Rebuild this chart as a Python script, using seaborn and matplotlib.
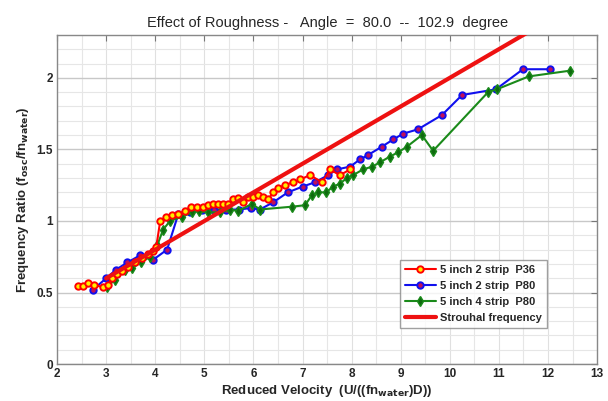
import matplotlib
matplotlib.use("Agg")
import matplotlib.pyplot as plt
import seaborn as sns
import numpy as np
import pandas as pd

# Data
p36_x = [2.43, 2.53, 2.63, 2.75, 2.93, 3.03, 3.12, 3.22, 3.32, 3.45, 3.58, 3.72, 3.85, 3.95, 4.02,
         4.10, 4.22, 4.34, 4.47, 4.60, 4.72, 4.85, 4.98, 5.08, 5.18, 5.28, 5.38, 5.48, 5.58, 5.69,
         5.79, 5.89, 5.99, 6.09, 6.20, 6.30, 6.40, 6.50, 6.64, 6.80, 6.95, 7.15, 7.40, 7.56, 7.76, 7.97]
p36_y = [0.545, 0.545, 0.57, 0.55, 0.54, 0.55, 0.60, 0.63, 0.65, 0.68, 0.71, 0.74, 0.77, 0.79, 0.82,
         1.00, 1.03, 1.04, 1.05, 1.07, 1.10, 1.10, 1.10, 1.11, 1.12, 1.12, 1.12, 1.12, 1.15, 1.16,
         1.13, 1.17, 1.17, 1.18, 1.17, 1.15, 1.20, 1.23, 1.25, 1.27, 1.29, 1.32, 1.27, 1.36, 1.32, 1.36]

p80_x = [2.73, 3.00, 3.20, 3.43, 3.69, 3.96, 4.24, 4.47, 4.71, 4.95, 5.20, 5.45, 5.70, 5.95, 6.13,
         6.40, 6.70, 7.00, 7.25, 7.52, 7.70, 7.97, 8.17, 8.33, 8.62, 8.85, 9.05, 9.35, 9.84, 10.25,
         10.94, 11.49, 12.04]
p80_y = [0.52, 0.60, 0.66, 0.71, 0.76, 0.73, 0.80, 1.05, 1.06, 1.08, 1.08, 1.08, 1.08, 1.09, 1.08,
         1.13, 1.20, 1.24, 1.27, 1.32, 1.36, 1.38, 1.43, 1.46, 1.52, 1.57, 1.61, 1.64, 1.74, 1.88,
         1.92, 2.06, 2.06]

s4_x = [3.02, 3.18, 3.39, 3.53, 3.70, 3.90, 4.04, 4.16, 4.30, 4.55, 4.75, 4.90, 5.08, 5.32, 5.52,
        5.69, 5.97, 6.13, 6.79, 7.05, 7.19, 7.32, 7.48, 7.62, 7.76, 7.90, 8.03, 8.23, 8.42, 8.58,
        8.78, 8.95, 9.13, 9.43, 9.66, 10.78, 10.96, 11.61, 12.45]
s4_y = [0.54, 0.59, 0.66, 0.67, 0.71, 0.75, 0.83, 0.94, 1.00, 1.03, 1.06, 1.07, 1.06, 1.06, 1.08,
        1.07, 1.12, 1.08, 1.10, 1.11, 1.18, 1.20, 1.20, 1.24, 1.26, 1.30, 1.32, 1.36, 1.38, 1.41,
        1.45, 1.48, 1.52, 1.60, 1.49, 1.90, 1.92, 2.01, 2.05]

st_x = [3.0, 13.0]
st_y = [0.6, 2.6]

series_labels = ["5 inch 2 strip  P36", "5 inch 2 strip  P80", "5 inch 4 strip  P80", "Strouhal frequency"]
x_ticks = list(range(2, 14))
y_ticks = [0, 0.5, 1, 1.5, 2]

sns.set_style("white")
plt.rcParams['font.family'] = ['Liberation Sans', 'DejaVu Sans']

fig = plt.figure(figsize=(6.08, 4.01), dpi=100)
ax = fig.add_axes([0.094, 0.092, 0.888, 0.821])

sns.lineplot(x=p36_x, y=p36_y, sort=False, estimator=None, ax=ax, color="red", lw=1.5,
             marker="o", markersize=4.6, markerfacecolor="#ffee00", markeredgecolor="red",
             markeredgewidth=1.4, label=series_labels[0], zorder=4)
sns.lineplot(x=p80_x, y=p80_y, sort=False, estimator=None, ax=ax, color="#1010ee", lw=1.5,
             marker="o", markersize=4.6, markerfacecolor="#c0105a", markeredgecolor="#1010ee",
             markeredgewidth=1.4, label=series_labels[1], zorder=3)
sns.lineplot(x=s4_x, y=s4_y, sort=False, estimator=None, ax=ax, color="#1a8a1a", lw=1.5,
             marker="d", markersize=5.5, markerfacecolor="#0f6a0f", markeredgecolor="#1a8a1a",
             markeredgewidth=1.0, label=series_labels[2], zorder=3)
sns.lineplot(x=st_x, y=st_y, sort=False, estimator=None, ax=ax, color="#ee1111", lw=3,
             label=series_labels[3], zorder=5)

ax.set_xlim(2, 13)
ax.set_ylim(0, 2.3)
ax.set_xticks(x_ticks)
ax.set_xticklabels([str(t) for t in x_ticks])
ax.set_yticks(y_ticks)
ax.set_yticklabels(["0", "0.5", "1", "1.5", "2"])
ax.set_xticks(np.arange(2, 13.01, 0.5), minor=True)
ax.set_yticks(np.arange(0, 2.301, 0.1), minor=True)
ax.grid(which="minor", color="#e6e6e6", lw=0.8)
ax.grid(which="major", axis="y", color="#c8c8c8", lw=1.0)
ax.grid(which="major", axis="x", color="#e0e0e0", lw=0.8)
ax.set_axisbelow(True)
ax.tick_params(which="major", direction="in", length=4, top=True, right=True,
               labelsize=8.5, color="#777777", pad=3)
ax.tick_params(which="minor", length=0)
for lbl in ax.get_xticklabels() + ax.get_yticklabels():
    lbl.set_fontweight("bold")
for sp in ax.spines.values():
    sp.set_color("#888888")
    sp.set_linewidth(1.0)

ax.set_title("Effect of Roughness -   Angle  =  80.0  --  102.9  degree", fontsize=10.5, pad=6)
ax.set_xlabel("Reduced Velocity  (U/((fn$_{\\mathbf{water}}$)D))", fontsize=9.5, fontweight="bold", labelpad=2)
ax.set_ylabel("Frequency Ratio (f$_{\\mathbf{osc}}$/fn$_{\\mathbf{water}}$)", fontsize=9.5, fontweight="bold", labelpad=4)

leg = ax.legend(loc="lower right", bbox_to_anchor=(0.918, 0.093), prop={"weight": "bold", "size": 8},
                frameon=True, fancybox=False, edgecolor="#888888", handlelength=2.8,
                borderpad=0.45, labelspacing=0.55, handletextpad=0.4)
leg.get_frame().set_linewidth(1.0)

fig.savefig("out.png", dpi=100)
